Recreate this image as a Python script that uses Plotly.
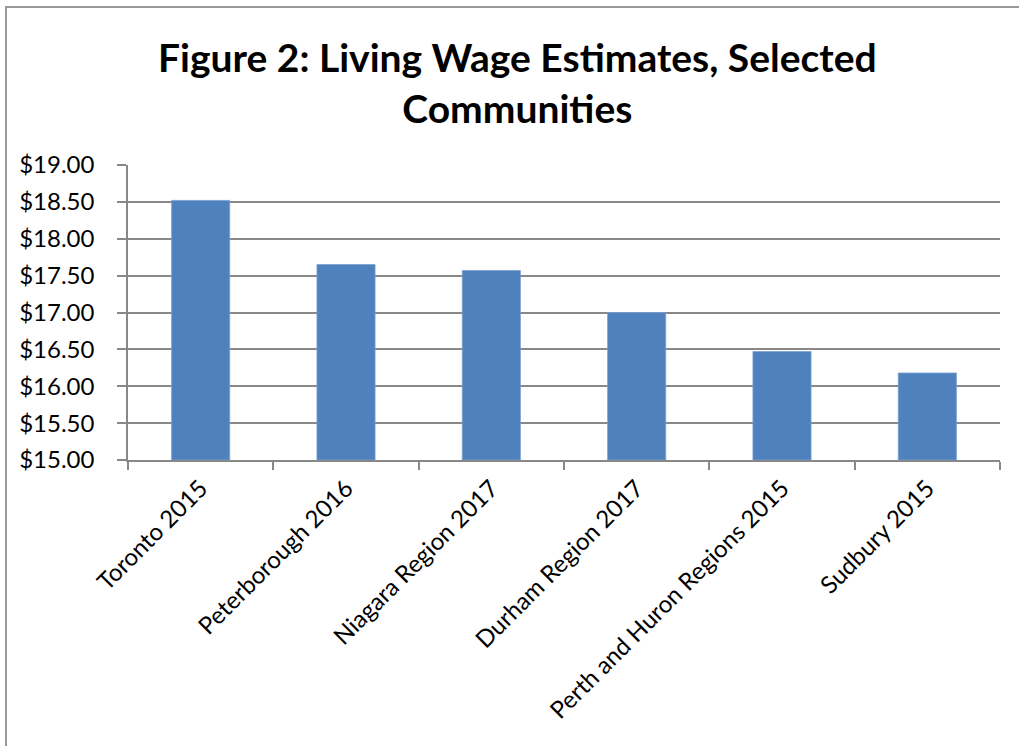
import plotly.graph_objects as go

categories = ["Toronto 2015", "Peterborough 2016", "Niagara Region 2017",
              "Durham Region 2017", "Perth and Huron Regions 2015", "Sudbury 2015"]
wages = [18.52, 17.65, 17.57, 17.00, 16.47, 16.18]
tick_vals = [15.0, 15.5, 16.0, 16.5, 17.0, 17.5, 18.0, 18.5, 19.0]
tick_text = ["$15.00", "$15.50", "$16.00", "$16.50", "$17.00", "$17.50", "$18.00", "$18.50", "$19.00"]
title_text = "Figure 2: Living Wage Estimates, Selected<br>Communities"

FONT = "Lato"
W, H = 1019, 746
L, R, T, B = 128, 1000, 165, 460
BASE = 15.0

fig = go.Figure()
fig.add_trace(go.Bar(
    x=categories, y=[v - BASE for v in wages],
    base=BASE,
    marker=dict(color="#4F81BD", line=dict(color="#7aa0cf", width=0.8)),
    width=0.4,
))

fig.update_layout(
    width=W, height=H,
    margin=dict(l=L, r=W - R, t=T, b=H - B, pad=0),
    paper_bgcolor="white", plot_bgcolor="white",
    showlegend=False,
    font=dict(family=FONT, color="black"),
    xaxis=dict(
        type="category",
        tickangle=-45,
        tickfont=dict(size=24, family=FONT, color="black"),
        ticks="outside", ticklen=8, tickcolor="#888888", tickwidth=1.5,
        tickson="boundaries",
        ticklabelstandoff=3,
        showline=True, linecolor="#888888", linewidth=1.5,
        showgrid=False,
    ),
    yaxis=dict(
        range=[15, 19],
        tickvals=tick_vals, ticktext=tick_text,
        tickfont=dict(size=24, family=FONT, color="black"),
        ticks="outside", ticklen=9, tickcolor="#888888", tickwidth=1.5,
        ticklabelstandoff=18,
        showline=True, linecolor="#888888", linewidth=1.5,
        showgrid=True, gridcolor="#888888", gridwidth=1.5,
        zeroline=False,
    ),
    annotations=[dict(
        text="<b>" + title_text + "</b>",
        xref="paper", yref="paper",
        x=(517 - L) / (R - L), y=(B - 82) / (B - T),
        xanchor="center", yanchor="middle",
        showarrow=False,
        font=dict(size=39, family=FONT, color="black"),
    )],
    shapes=[dict(
        type="rect", xref="paper", yref="paper",
        x0=(6 - L) / (R - L), x1=(1030 - L) / (R - L),
        y0=(B - 760) / (B - T), y1=(B - 7) / (B - T),
        line=dict(color="#999999", width=2),
        layer="below",
    )],
)

fig.write_html("out.html",
               config={"displayModeBar": False},
               post_script="document.body.style.margin='0';document.body.style.overflow='hidden';")
